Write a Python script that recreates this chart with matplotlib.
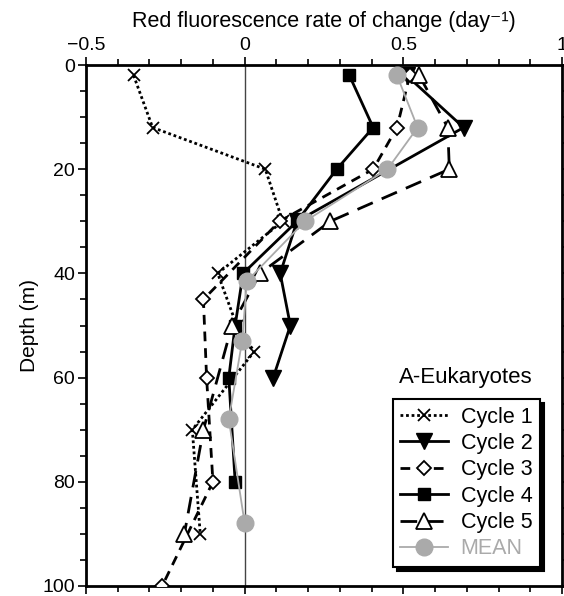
import matplotlib
matplotlib.use("Agg")
import matplotlib.pyplot as plt
from matplotlib.ticker import MultipleLocator

plt.rcParams['font.family'] = ['Liberation Sans', 'DejaVu Sans']

# Data (rate of change, depth in m)
c1_depth = [2, 12, 20, 30, 40, 50, 55, 70, 90]
c1_rate = [-0.35, -0.29, 0.065, 0.12, -0.085, -0.025, 0.03, -0.165, -0.14]

c2_depth = [2, 12, 30, 40, 50, 60]
c2_rate = [0.51, 0.69, 0.165, 0.112, 0.144, 0.09]

c3_depth = [2, 12, 20, 30, 45, 60, 80, 100]
c3_rate = [0.52, 0.48, 0.405, 0.11, -0.13, -0.12, -0.10, -0.26]

c4_depth = [2, 12, 20, 30, 40, 50, 60, 80]
c4_rate = [0.33, 0.405, 0.29, 0.165, -0.005, -0.03, -0.05, -0.03]

c5_depth = [2, 12, 20, 30, 40, 50, 70, 90]
c5_rate = [0.55, 0.64, 0.645, 0.27, 0.048, -0.04, -0.13, -0.19]

mean_depth = [2, 12, 20, 30, 41.5, 53, 68, 88]
mean_rate = [0.48, 0.545, 0.45, 0.19, 0.007, -0.008, -0.05, 0.0]

labels = ["Cycle 1", "Cycle 2", "Cycle 3", "Cycle 4", "Cycle 5", "MEAN"]
xticks = [-0.5, 0, 0.5, 1]
xticklabels = ["\u22120.5", "0", "0.5", "1"]
yticks = [0, 20, 40, 60, 80, 100]

fig = plt.figure(figsize=(5.64, 5.96), dpi=100)
ax = fig.add_axes([86/564, 1-586/596, (562-86)/564, (586-65)/596])

ax.axvline(0, color='#444444', lw=1.0, zorder=1)

lw = 2.0
ax.plot(c1_rate, c1_depth, color='black', lw=lw, ls=(0, (1, 1)),
        marker='x', ms=9, mew=1.3, label=labels[0], zorder=3)
ax.plot(c2_rate, c2_depth, color='black', lw=lw, ls='-',
        marker='v', ms=11, mfc='black', mec='black', label=labels[1], zorder=3)
ax.plot(c3_rate, c3_depth, color='black', lw=lw, ls=(0, (3.5, 2.5)),
        marker='D', ms=7.5, mfc='white', mec='black', mew=1.3, label=labels[2], zorder=3)
ax.plot(c4_rate, c4_depth, color='black', lw=lw, ls='-',
        marker='s', ms=9, mfc='black', mec='black', label=labels[3], zorder=3)
ax.plot(c5_rate, c5_depth, color='black', lw=lw, ls=(0, (6, 3.5)),
        marker='^', ms=11, mfc='white', mec='black', mew=1.3, label=labels[4], zorder=3)
ax.plot(mean_rate, mean_depth, color='#aaaaaa', lw=1.3, ls='-',
        marker='o', ms=12, mfc='#aaaaaa', mec='#aaaaaa', label=labels[5], zorder=4)

ax.set_xlim(-0.5, 1.0)
ax.set_ylim(100, 0)

ax.xaxis.tick_top()
ax.xaxis.set_label_position('top')
ax.set_xticks(xticks)
ax.set_xticklabels(xticklabels, fontsize=14)
ax.xaxis.set_minor_locator(MultipleLocator(0.1))
ax.set_yticks(yticks)
ax.set_yticklabels([str(v) for v in yticks], fontsize=14)
ax.yaxis.set_minor_locator(MultipleLocator(5))
ax.tick_params(axis='both', which='both', direction='out', top=True, bottom=True,
               left=True, right=True, width=1.2)
ax.tick_params(axis='both', which='major', length=6, pad=2)
ax.tick_params(axis='both', which='minor', length=4)
for s in ax.spines.values():
    s.set_linewidth(2)

ax.set_xlabel("Red fluorescence rate of change (day\u207b\u00b9)", fontsize=15.5, labelpad=7)
ax.set_ylabel("Depth (m)", fontsize=15, labelpad=2)

leg = ax.legend(loc='lower right', bbox_to_anchor=((540-86)/476, (586-567)/521),
                fontsize=15.5, frameon=True, fancybox=False, edgecolor='black',
                framealpha=1, handlelength=2.2, borderpad=0.35, labelspacing=0.25,
                handletextpad=0.6, borderaxespad=0,
                shadow={'color': 'black', 'alpha': 1, 'ox': 3, 'oy': -3})
leg.get_frame().set_linewidth(1.5)
for t in leg.get_texts():
    if t.get_text() == 'MEAN':
        t.set_color('#aaaaaa')

ax.text(466/100, (596-378)/100, "A-Eukaryotes", fontsize=16, ha='center', va='center',
        transform=fig.dpi_scale_trans)

fig.savefig("out.png", dpi=100)
